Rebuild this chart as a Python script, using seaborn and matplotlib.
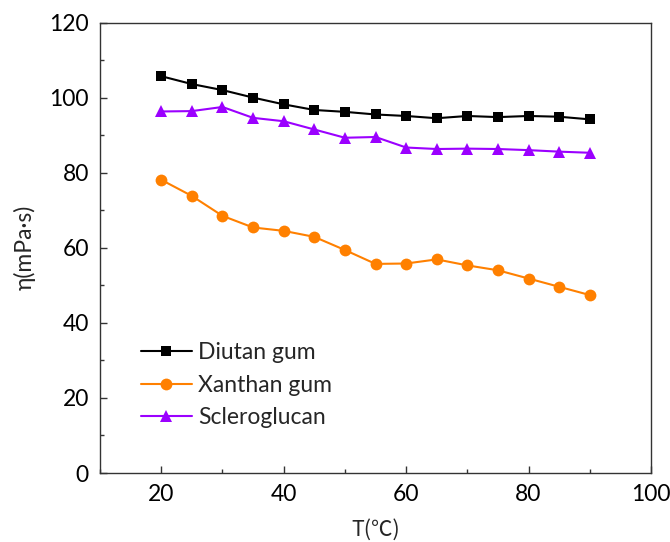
import matplotlib
matplotlib.use("Agg")
import matplotlib.pyplot as plt
import seaborn as sns
import pandas as pd
from matplotlib.ticker import MultipleLocator

# Temperature (°C)
temperature = [20, 25, 30, 35, 40, 45, 50, 55, 60, 65, 70, 75, 80, 85, 90]

# Apparent viscosity (mPa·s)
diutan = [105.7, 103.6, 102.0, 100.0, 98.2, 96.7, 96.2, 95.5, 95.1, 94.5, 95.1, 94.8, 95.1, 94.9, 94.2]
xanthan = [78.1, 73.8, 68.5, 65.4, 64.5, 62.9, 59.4, 55.7, 55.8, 56.9, 55.3, 54.0, 51.8, 49.6, 47.4]
scleroglucan = [96.3, 96.4, 97.5, 94.6, 93.7, 91.5, 89.3, 89.5, 86.7, 86.3, 86.4, 86.3, 86.0, 85.6, 85.3]

series_names = ["Diutan gum", "Xanthan gum", "Scleroglucan"]

df = pd.DataFrame({
    "T": temperature * 3,
    "eta": diutan + xanthan + scleroglucan,
    "gum": sum([[n] * len(temperature) for n in series_names], []),
})

sns.set_theme(style="ticks")
plt.rcParams["font.family"] = ["Lato", "DejaVu Sans"]

fig = plt.figure(figsize=(6.7, 5.42), dpi=100)
ax = fig.add_axes([100 / 670, 1 - 473 / 542, 551 / 670, 450.5 / 542])

palette = {"Diutan gum": "#000000", "Xanthan gum": "#FF8000", "Scleroglucan": "#9B00FF"}
markers = {"Diutan gum": "s", "Xanthan gum": "o", "Scleroglucan": "^"}
sizes = {"Diutan gum": 7.5, "Xanthan gum": 8.5, "Scleroglucan": 9}

for name in series_names:
    sub = df[df["gum"] == name]
    sns.lineplot(data=sub, x="T", y="eta", ax=ax, color=palette[name],
                 marker=markers[name], markersize=sizes[name],
                 markeredgewidth=0, linewidth=1.5, label=name)

ax.set_xlim(10, 100)
ax.set_ylim(0, 120)
ax.xaxis.set_major_locator(MultipleLocator(20))
ax.xaxis.set_minor_locator(MultipleLocator(10))
ax.yaxis.set_major_locator(MultipleLocator(20))
ax.yaxis.set_minor_locator(MultipleLocator(10))

ax.tick_params(axis="both", which="major", direction="in", length=5, width=1,
               color="#333333", labelsize=16.5, pad=8, labelcolor="black")
ax.tick_params(axis="both", which="minor", direction="in", length=3, width=1,
               color="#333333")

for s in ax.spines.values():
    s.set_visible(True)
    s.set_color("#333333")
    s.set_linewidth(1.0)

ax.set_xlabel("T(℃)", fontsize=15.5, labelpad=10,
              fontfamily=["Noto Sans CJK SC", "DejaVu Sans"])
ax.set_ylabel("η(mPa·s)", fontsize=16.5, labelpad=10)

leg = ax.legend(loc="upper left", bbox_to_anchor=(0.058, 0.312), frameon=False,
                fontsize=16.5, handlelength=2.2, handletextpad=0.3,
                labelspacing=0.52, borderaxespad=0)

fig.savefig("out.png", dpi=100)
